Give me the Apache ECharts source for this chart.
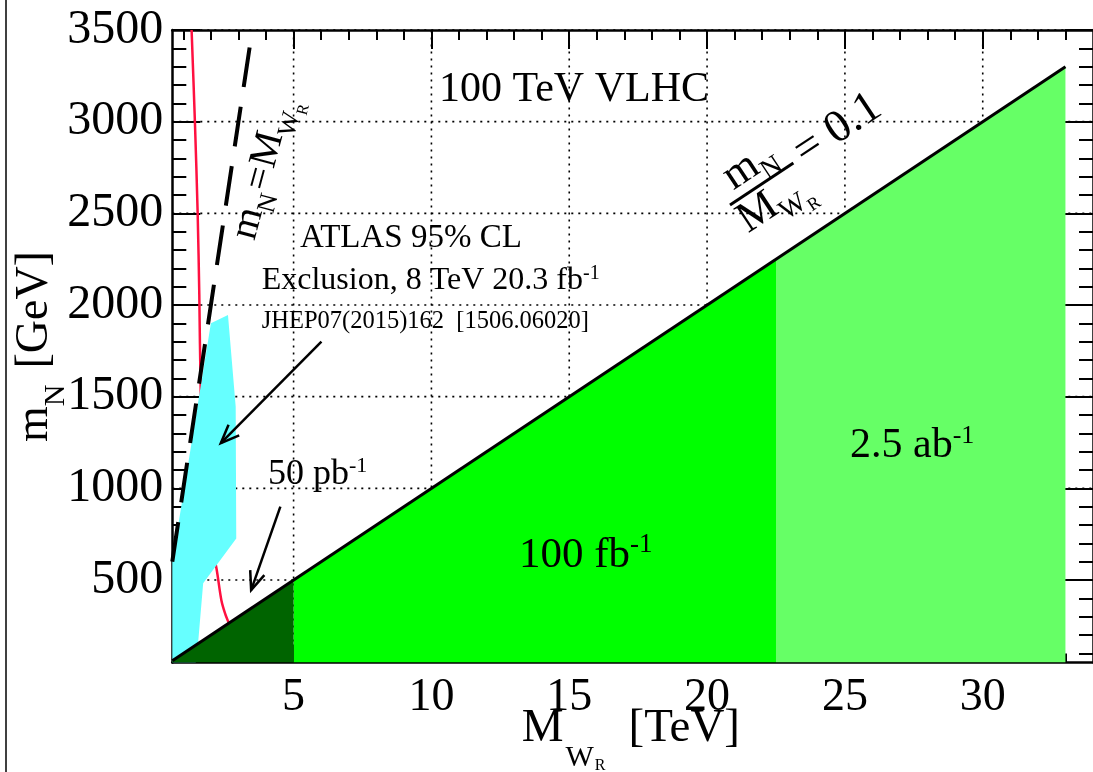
<!DOCTYPE html>
<html><head><meta charset="utf-8">
<script src="https://cdn.jsdelivr.net/npm/echarts@6/dist/echarts.min.js"></script>
<style>html,body{margin:0;padding:0;background:#fff}#c{width:1093px;height:772px}</style>
</head><body><div id="c"></div>
<script>
// ---------- data ----------
const X_MIN = 0.6, X_MAX = 34, Y_MIN = 50, Y_MAX = 3500;
const xMajorTicks = [5, 10, 15, 20, 25, 30];
const xTickLabels = ['5', '10', '15', '20', '25', '30'];
const xMinorTicks = [1,2,3,4,6,7,8,9,11,12,13,14,16,17,18,19,21,22,23,24,26,27,28,29,31,32,33];
const yMajorTicks = [500, 1000, 1500, 2000, 2500, 3000, 3500];
const yTickLabels = ['500', '1000', '1500', '2000', '2500', '3000', '3500'];
const yMinorTicks = [100,200,300,400,600,700,800,900,1100,1200,1300,1400,1600,1700,1800,1900,2100,2200,2300,2400,2600,2700,2800,2900,3100,3200,3300,3400];

// red curve (ATLAS-like limit contour)
const redCurve = [[1.30,3500],[1.42,3000],[1.52,2500],[1.58,2050],[1.63,1530],[1.72,1150],[1.87,850],[2.03,680],[2.20,565],[2.38,390],[2.52,315],[2.65,265]];
// ATLAS 95% CL exclusion region (cyan)
const atlasRegion = [[0.6,50],[0.6,600],[2.0,1900],[2.62,1945],[2.90,1445],[2.92,727],[1.72,482],[1.54,163],[1.45,50]];
// luminosity reach regions
const region50pb = [[0.6,50],[0.6,60],[5,500],[5,50]];
const region100fb = [[5,50],[5,500],[22.5,2250],[22.5,50]];
const region25ab = [[22.5,50],[22.5,2250],[33,3300],[33,50]];
// lines
const ratioLine = [[0.6,60],[33,3300]];      // mN/MWR = 0.1
const equalLine = [[0.6,600],[3.5,3500]];    // mN = MWR
// annotation arrows [from, to]
const arrows = [[[6.01,1800],[2.36,1246]], [[4.52,900],[3.46,445]]];

// ---------- helpers ----------
const FONT = '"Liberation Serif", "Times New Roman", serif';
const mctx = document.createElement('canvas').getContext('2d');
function tw(t, s) { mctx.font = s + 'px ' + FONT; return mctx.measureText(t).width; }
function runWidth(parts) { return parts.reduce((w, p) => w + (p.gap || 0) + tw(p.t, p.s), 0); }
function textRun(parts, startX, baseY) {
  let x = startX; const out = [];
  parts.forEach(p => {
    x += (p.gap || 0);
    out.push({ type: 'text', x: x, y: baseY + (p.dy || 0) - 0.34 * p.s, z: 100,
      style: { text: p.t, font: p.s + 'px ' + FONT, fill: '#000', align: 'left', verticalAlign: 'middle' } });
    x += tw(p.t, p.s);
  });
  return out;
}
function label(parts, x, baseline, opt) {
  opt = opt || {};
  const w = runWidth(parts);
  const start = opt.center ? -w / 2 : 0;
  return { type: 'group', x: x, y: baseline, rotation: opt.rot || 0, z: 100, children: textRun(parts, start, 0) };
}
function sup(S) { return { s: Math.round(S * 0.62), dy: -0.36 * S }; }

function fractionLabel() {
  const S = 44, s = 28, ss = 18, L = 76;
  const num = [{ t: 'm', s: S }, { t: 'N', s: s, dy: 9 }];
  const den = [{ t: 'M', s: S }, { t: 'W', s: s, dy: 9 }, { t: 'R', s: ss, dy: 15 }];
  const eq = [{ t: '= 0.1', s: 46 }];
  const nw = runWidth(num), dw = runWidth(den);
  const children = []
    .concat(textRun(num, (L - nw) / 2, -7))
    .concat(textRun(den, (L - dw) / 2, 37))
    .concat(textRun(eq, L + 8, 12));
  children.push({ type: 'line', z: 100, shape: { x1: 0, y1: 0, x2: L, y2: 0 }, style: { stroke: '#000', lineWidth: 3 } });
  return { type: 'group', x: 730, y: 205, rotation: 33.5 * Math.PI / 180, z: 100, children: children };
}

function polySeries(pts, color, z) {
  return {
    type: 'custom', coordinateSystem: 'cartesian2d', xAxisIndex: 0, yAxisIndex: 0, z: z, silent: true, clip: true,
    data: [[X_MIN, Y_MIN]],
    renderItem: (params, api) => ({ type: 'polygon', shape: { points: pts.map(p => api.coord(p)) }, style: { fill: color } })
  };
}

function axisX(pos, ticks, len, showLine, showLabel) {
  return {
    type: 'value', min: X_MIN, max: X_MAX, position: pos,
    axisLine: { show: showLine, onZero: false, lineStyle: { color: '#000', width: 2.5 } },
    axisTick: { show: true, inside: true, length: len, customValues: ticks, lineStyle: { color: '#000', width: 2 } },
    axisLabel: showLabel ? { show: true, customValues: ticks, formatter: v => xTickLabels[xMajorTicks.indexOf(v)],
      fontSize: 46, fontFamily: FONT, color: '#000', margin: 12 } : { show: false },
    splitLine: { show: false }
  };
}
function axisY(pos, ticks, len, showLine, showLabel) {
  return {
    type: 'value', min: Y_MIN, max: Y_MAX, position: pos,
    axisLine: { show: showLine, onZero: false, lineStyle: { color: '#000', width: 2.5 } },
    axisTick: { show: true, inside: true, length: len, customValues: ticks, lineStyle: { color: '#000', width: 2 } },
    axisLabel: showLabel ? { show: true, customValues: ticks, formatter: v => yTickLabels[yMajorTicks.indexOf(v)],
      fontSize: 48, fontFamily: FONT, color: '#000', margin: 9 } : { show: false },
    splitLine: { show: false }
  };
}

const chart = echarts.init(document.getElementById('c'), null, { renderer: 'canvas' });

const option = {
  animation: false,
  backgroundColor: '#fff',
  grid: { left: 172.3, top: 30, right: -5.2, bottom: 109.5, containLabel: false },
  xAxis: [
    axisX('bottom', xMajorTicks, 18, true, true),
    axisX('bottom', xMinorTicks, 9, false, false),
    axisX('top', xMajorTicks, 19, true, false),
    axisX('top', xMinorTicks, 10, false, false)
  ],
  yAxis: [
    axisY('left', yMajorTicks, 28, true, true),
    axisY('left', yMinorTicks, 14, false, false),
    axisY('right', yMajorTicks, 28, true, false),
    axisY('right', yMinorTicks, 14, false, false)
  ],
  series: [
    { // vertical dotted grid lines
      type: 'custom', coordinateSystem: 'cartesian2d', xAxisIndex: 0, yAxisIndex: 0, z: 1, silent: true,
      data: xMajorTicks.map(v => [v, Y_MIN]),
      renderItem: (params, api) => {
        const a = api.coord([api.value(0), Y_MIN]), b = api.coord([api.value(0), Y_MAX]);
        return { type: 'line', shape: { x1: a[0], y1: a[1], x2: b[0], y2: b[1] }, style: { stroke: '#000', lineWidth: 1.6, lineDash: [2, 5] } };
      }
    },
    { // horizontal dotted grid lines
      type: 'custom', coordinateSystem: 'cartesian2d', xAxisIndex: 0, yAxisIndex: 0, z: 1, silent: true,
      data: yMajorTicks.map(v => [X_MIN, v]),
      renderItem: (params, api) => {
        const a = api.coord([X_MIN, api.value(1)]), b = api.coord([X_MAX, api.value(1)]);
        return { type: 'line', shape: { x1: a[0], y1: a[1], x2: b[0], y2: b[1] }, style: { stroke: '#000', lineWidth: 1.6, lineDash: [2, 5] } };
      }
    },
    { type: 'line', data: redCurve, smooth: 0.3, showSymbol: false, symbol: 'none', z: 2, silent: true,
      lineStyle: { color: '#ff1040', width: 2.5 } },
    polySeries(atlasRegion, '#66ffff', 3),
    polySeries(region25ab, '#66ff66', 4),
    polySeries(region100fb, '#00ff00', 4),
    polySeries(region50pb, '#006400', 4),
    { type: 'line', data: equalLine, showSymbol: false, symbol: 'none', z: 5, silent: true,
      lineStyle: { color: '#000', width: 4, type: [40, 20] } },
    { type: 'line', data: ratioLine, showSymbol: false, symbol: 'none', z: 6, silent: true,
      lineStyle: { color: '#000', width: 3 } },
    { // arrows
      type: 'custom', coordinateSystem: 'cartesian2d', xAxisIndex: 0, yAxisIndex: 0, z: 7, silent: true,
      data: arrows.map(a => a[1]),
      renderItem: (params, api) => {
        const a = arrows[params.dataIndex];
        const p0 = api.coord(a[0]), p1 = api.coord(a[1]);
        const dx = p0[0] - p1[0], dy = p0[1] - p1[1], d = Math.hypot(dx, dy);
        const ux = dx / d, uy = dy / d, L = 20, ang = 22 * Math.PI / 180;
        const rot = (t) => [p1[0] + L * (ux * Math.cos(t) - uy * Math.sin(t)), p1[1] + L * (ux * Math.sin(t) + uy * Math.cos(t))];
        return { type: 'group', children: [
          { type: 'line', shape: { x1: p0[0], y1: p0[1], x2: p1[0], y2: p1[1] }, style: { stroke: '#000', lineWidth: 2.5 } },
          { type: 'polyline', shape: { points: [rot(ang), p1, rot(-ang)] }, style: { stroke: '#000', lineWidth: 2.5, fill: null } }
        ] };
      }
    }
  ],
  graphic: [
    { type: 'line', z: 100, shape: { x1: 6, y1: 0, x2: 6, y2: 772 }, style: { stroke: '#000', lineWidth: 1.5 } },
    label([{ t: '100 TeV VLHC', s: 42 }], 574, 104, { center: true }),
    label([{ t: 'ATLAS 95% CL', s: 33 }], 300, 250),
    label([{ t: 'Exclusion, 8 TeV 20.3 fb', s: 32 }, Object.assign({ t: '-1' }, sup(32))], 261.7, 291.7),
    label([{ t: 'JHEP07(2015)162  [1506.06020]', s: 24.5 }], 261.7, 330),
    label([{ t: '50 pb', s: 36 }, Object.assign({ t: '-1' }, sup(36))], 268, 487),
    label([{ t: '100 fb', s: 43 }, Object.assign({ t: '-1' }, sup(43))], 519, 570),
    label([{ t: '2.5 ab', s: 42 }, Object.assign({ t: '-1' }, sup(42))], 850, 460),
    // rotated mN = MWR
    label([{ t: 'm', s: 40 }, { t: 'N', s: 26, dy: 10 }, { t: '=', s: 40, gap: 1 }, { t: 'M', s: 40, gap: 1 },
           { t: 'W', s: 26, dy: 10 }, { t: 'R', s: 16, dy: 16 }], 276, 172, { center: true, rot: 75 * Math.PI / 180 }),
    fractionLabel(),
    // axis titles
    label([{ t: 'M', s: 47 }, { t: 'W', s: 30, dy: 23, gap: 2 }, { t: 'R', s: 16, dy: 26, gap: 1 }, { t: '[TeV]', s: 47, gap: 23 }], 521.7, 745),
    label([{ t: 'm', s: 46 }, { t: 'N', s: 30, dy: 15 }, { t: '[GeV]', s: 46, gap: 16 }], 51, 442, { rot: Math.PI / 2 })
  ]
};
chart.setOption(option);
</script></body></html>
